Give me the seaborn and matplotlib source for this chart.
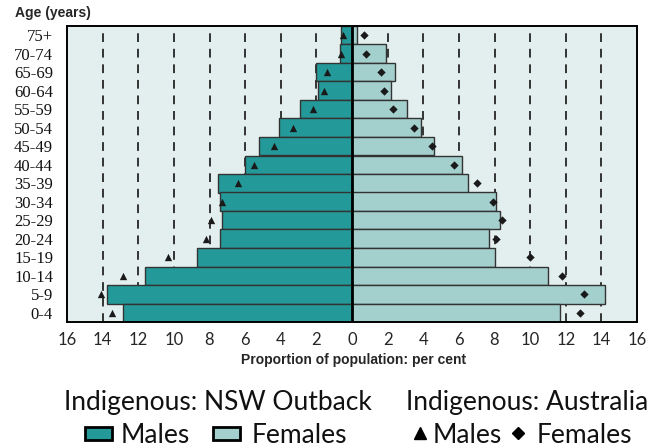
import numpy as np
import pandas as pd
import matplotlib
matplotlib.use("Agg")
import matplotlib.pyplot as plt
import seaborn as sns
from matplotlib.patches import Rectangle
from matplotlib.lines import Line2D
from matplotlib.ticker import FixedLocator, FuncFormatter

# Age groups, top to bottom
ages = ["75+", "70-74", "65-69", "60-64", "55-59", "50-54", "45-49", "40-44",
        "35-39", "30-34", "25-29", "20-24", "15-19", "10-14", "5-9", "0-4"]

# Indigenous: NSW Outback (per cent)
outback_males = [0.6, 0.7, 2.0, 1.9, 2.9, 4.1, 5.2, 6.0,
                 7.5, 7.4, 7.3, 7.4, 8.7, 11.6, 13.75, 12.85]
outback_females = [0.3, 1.9, 2.4, 2.2, 3.1, 3.9, 4.6, 6.2,
                   6.5, 8.1, 8.3, 7.7, 8.0, 11.0, 14.2, 11.7]

# Indigenous: Australia (per cent)
aus_males = [0.5, 0.6, 1.4, 1.6, 2.2, 3.3, 4.4, 5.5,
             6.4, 7.3, 7.9, 8.2, 10.35, 12.85, 14.1, 13.45]
aus_females = [0.7, 0.8, 1.6, 1.8, 2.3, 3.5, 4.5, 5.7,
               7.0, 7.9, 8.4, 8.1, 10.0, 11.8, 13.0, 12.8]

df = pd.DataFrame({
    "age": ages,
    "om": -np.array(outback_males),
    "of": outback_females,
    "am": -np.array(aus_males),
    "af": aus_females,
})

male_col = "#24999a"
female_col = "#a3cfcd"
bg_col = "#e2efee"

sns.set_theme(style="white")

fig = plt.figure(figsize=(6.56, 4.48), dpi=100)
ax = fig.add_axes([67 / 656, 1 - 322 / 448, 570 / 656, 296 / 448])
ax.set_facecolor(bg_col)

# dashed grid behind the bars
for g in list(range(-14, 0, 2)) + list(range(2, 16, 2)):
    ax.axvline(g, color="#333333", lw=1.4, ls=(0, (4.5, 3.5)), zorder=0)

sns.barplot(data=df, x="om", y="age", order=ages, color=male_col, width=1.0,
            edgecolor="#333333", linewidth=1.0, saturation=1, ax=ax, zorder=2)
sns.barplot(data=df, x="of", y="age", order=ages, color=female_col, width=1.0,
            edgecolor="#333333", linewidth=1.0, saturation=1, ax=ax, zorder=2)

sns.scatterplot(data=df, x="am", y="age", marker="^", color="#1a1a1a",
                s=28, linewidth=0, ax=ax, zorder=4)
sns.scatterplot(data=df, x="af", y="age", marker="D", color="#1a1a1a",
                s=18, linewidth=0, ax=ax, zorder=4)

ax.axvline(0, color="black", lw=2, zorder=5)

ax.set_xlim(-16, 16)
ax.set_ylim(len(ages) - 0.5, -0.5)
ax.xaxis.set_major_locator(FixedLocator(range(-16, 17, 2)))
ax.xaxis.set_major_formatter(FuncFormatter(lambda v, p: f"{abs(int(round(v)))}"))
ax.set_xlabel("")
ax.set_ylabel("")
ax.tick_params(axis="both", length=0)
ax.tick_params(axis="x", pad=7)
ax.tick_params(axis="y", pad=10)
for lab in ax.get_xticklabels():
    lab.set_fontfamily("Lato")
    lab.set_fontsize(12)
for lab in ax.get_yticklabels():
    lab.set_fontfamily("Liberation Serif")
    lab.set_fontsize(12)
    lab.set_color("#111111")
for sp in ax.spines.values():
    sp.set_visible(True)
    sp.set_color("black")
    sp.set_linewidth(1.4)

fig.text(15 / 656, 1 - 13 / 448, "Age (years)", ha="left", va="center",
         fontsize=10, fontweight="bold", family="Liberation Sans")
fig.text(354 / 656, 1 - 360 / 448, "Proportion of population: per cent",
         ha="center", va="center", fontsize=10, fontweight="bold",
         family="Liberation Sans")

# legend
lfont = dict(family="Lato", fontsize=19, color="#111111")
fig.text(218 / 656, 1 - 410 / 448, "Indigenous: NSW Outback", ha="center",
         va="baseline", **lfont)
fig.text(527 / 656, 1 - 410 / 448, "Indigenous: Australia", ha="center",
         va="baseline", **lfont)
fig.add_artist(Rectangle((85 / 656, 1 - 440 / 448), 27 / 656, 13 / 448,
                         facecolor=male_col, edgecolor="black", lw=2,
                         transform=fig.transFigure))
fig.add_artist(Rectangle((213 / 656, 1 - 440 / 448), 27 / 656, 13 / 448,
                         facecolor=female_col, edgecolor="black", lw=2,
                         transform=fig.transFigure))
fig.text(121 / 656, 1 - 443 / 448, "Males", ha="left", va="baseline", **lfont)
fig.text(252 / 656, 1 - 443 / 448, "Females", ha="left", va="baseline", **lfont)
fig.add_artist(Line2D([420 / 656], [1 - 433 / 448], marker="^", ms=8,
                      color="black", lw=0, transform=fig.transFigure))
fig.add_artist(Line2D([518 / 656], [1 - 433 / 448], marker="D", ms=6,
                      color="black", lw=0, transform=fig.transFigure))
fig.text(433 / 656, 1 - 443 / 448, "Males", ha="left", va="baseline", **lfont)
fig.text(537 / 656, 1 - 443 / 448, "Females", ha="left", va="baseline", **lfont)

fig.savefig("out.png", dpi=100)
